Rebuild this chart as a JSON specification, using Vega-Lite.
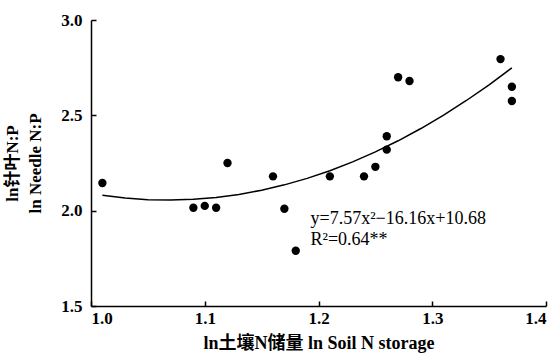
{
  "$schema": "https://vega.github.io/schema/vega-lite/v6.json",
  "width": 455,
  "height": 286,
  "autosize": "none",
  "padding": {"left": 91, "top": 20, "right": 11, "bottom": 47},
  "background": "white",
  "config": {
    "view": {"stroke": null},
    "axis": {
      "grid": false,
      "domainColor": "black",
      "tickColor": "black",
      "domainWidth": 1.5,
      "tickWidth": 1.5,
      "tickSize": -5,
      "labelFont": "Liberation Serif",
      "labelFontSize": 17,
      "labelFontWeight": "bold",
      "labelColor": "black",
      "titleFont": "Liberation Serif, Noto Sans CJK SC",
      "titleFontSize": 17,
      "titleFontWeight": "bold",
      "titleColor": "black"
    }
  },
  "datasets": {
    "pts": [
      {"x": 1.01, "y": 2.145},
      {"x": 1.09, "y": 2.015},
      {"x": 1.10, "y": 2.025},
      {"x": 1.11, "y": 2.015},
      {"x": 1.12, "y": 2.25},
      {"x": 1.16, "y": 2.18},
      {"x": 1.17, "y": 2.01},
      {"x": 1.18, "y": 1.79},
      {"x": 1.21, "y": 2.18},
      {"x": 1.24, "y": 2.18},
      {"x": 1.25, "y": 2.23},
      {"x": 1.26, "y": 2.32},
      {"x": 1.26, "y": 2.39},
      {"x": 1.27, "y": 2.70},
      {"x": 1.28, "y": 2.68},
      {"x": 1.36, "y": 2.795},
      {"x": 1.37, "y": 2.65},
      {"x": 1.37, "y": 2.575}
    ],
    "fit": [
      {"x": 1.01, "y": 2.0806},
      {"x": 1.03, "y": 2.0662},
      {"x": 1.05, "y": 2.0579},
      {"x": 1.07, "y": 2.0557},
      {"x": 1.09, "y": 2.0595},
      {"x": 1.11, "y": 2.0694},
      {"x": 1.13, "y": 2.0853},
      {"x": 1.15, "y": 2.1073},
      {"x": 1.17, "y": 2.1354},
      {"x": 1.19, "y": 2.1695},
      {"x": 1.21, "y": 2.2096},
      {"x": 1.23, "y": 2.2559},
      {"x": 1.25, "y": 2.3081},
      {"x": 1.27, "y": 2.3665},
      {"x": 1.29, "y": 2.4308},
      {"x": 1.31, "y": 2.5013},
      {"x": 1.33, "y": 2.5778},
      {"x": 1.35, "y": 2.6603},
      {"x": 1.37, "y": 2.749}
    ],
    "notes": [
      {"x": 1.193, "y": 1.958, "t": "y=7.57x²−16.16x+10.68"},
      {"x": 1.193, "y": 1.845, "t": "R²=0.64**"}
    ]
  },
  "layer": [
    {
      "data": {"name": "fit"},
      "mark": {"type": "line", "color": "black", "strokeWidth": 1.5},
      "encoding": {
        "x": {
          "field": "x", "type": "quantitative",
          "scale": {"domain": [1.0, 1.4], "nice": false, "zero": false},
          "axis": {"values": [1.0, 1.1, 1.2, 1.3, 1.4], "format": ".1f", "title": "ln土壤N储量 ln Soil N storage", "titleFontSize": 18, "labelPadding": 9, "titlePadding": 8}
        },
        "y": {
          "field": "y", "type": "quantitative",
          "scale": {"domain": [1.5, 3.0], "nice": false, "zero": false},
          "axis": {"values": [1.5, 2.0, 2.5, 3.0], "format": ".1f", "title": ["ln针叶N:P", "ln Needle N:P"], "titleLineHeight": 23, "labelPadding": 14, "titlePadding": 16}
        }
      }
    },
    {
      "data": {"name": "pts"},
      "mark": {"type": "circle", "color": "black", "opacity": 1, "size": 70},
      "encoding": {
        "x": {"field": "x", "type": "quantitative"},
        "y": {"field": "y", "type": "quantitative"}
      }
    },
    {
      "data": {"name": "notes"},
      "mark": {"type": "text", "align": "left", "baseline": "middle", "font": "Liberation Serif", "fontSize": 18, "color": "black"},
      "encoding": {
        "x": {"field": "x", "type": "quantitative"},
        "y": {"field": "y", "type": "quantitative"},
        "text": {"field": "t"}
      }
    }
  ]
}
